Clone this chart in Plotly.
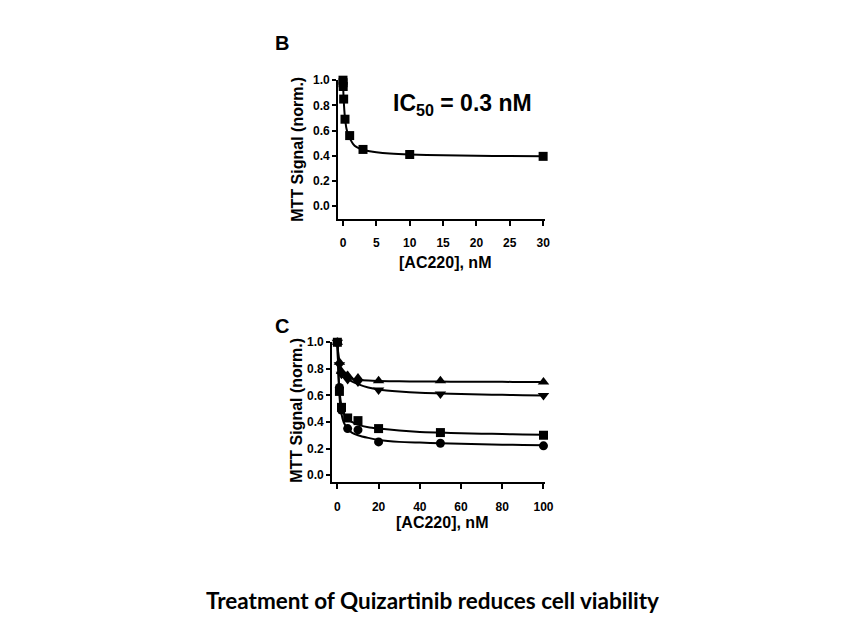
import plotly.graph_objects as go

W, H = 845, 634

# ---------------- Panel B data ----------------
b_dose = [0, 0.01, 0.03, 0.1, 0.3, 1, 3, 10, 30]
b_signal = [1.0, 0.98, 0.95, 0.85, 0.69, 0.56, 0.45, 0.41, 0.395]
b_fit_x = [0, 0.05, 0.1, 0.2, 0.3, 0.5, 0.75, 1, 1.5, 2, 3, 4, 5, 7, 10, 15, 20, 25, 30]
b_fit_y = [1.0, 0.91, 0.85, 0.76, 0.70, 0.62, 0.57, 0.54, 0.495, 0.47, 0.447, 0.435, 0.427, 0.417, 0.409, 0.403, 0.399, 0.397, 0.395]
b_xticks = [0, 5, 10, 15, 20, 25, 30]
b_yticks = [0.0, 0.2, 0.4, 0.6, 0.8, 1.0]

# ---------------- Panel C data ----------------
c_dose = [0, 1, 2, 5, 10, 20, 50, 100]
c_up = [1.0, 0.85, 0.78, 0.75, 0.73, 0.71, 0.71, 0.70]
c_down = [1.0, 0.83, 0.76, 0.72, 0.70, 0.64, 0.61, 0.60]
c_square = [1.0, 0.63, 0.51, 0.43, 0.41, 0.35, 0.32, 0.30]
c_circle = [1.0, 0.66, 0.49, 0.35, 0.34, 0.25, 0.24, 0.22]
c_fit_x = [0, 0.5, 1, 1.5, 2, 3, 4, 5, 7, 10, 15, 20, 30, 40, 50, 60, 70, 80, 90, 100]
c_fit_up = [1.0, 0.90, 0.84, 0.80, 0.78, 0.76, 0.745, 0.735, 0.725, 0.718, 0.712, 0.709, 0.706, 0.705, 0.704, 0.703, 0.702, 0.702, 0.701, 0.70]
c_fit_down = [1.0, 0.90, 0.84, 0.80, 0.78, 0.755, 0.74, 0.725, 0.705, 0.685, 0.66, 0.645, 0.63, 0.62, 0.615, 0.61, 0.607, 0.604, 0.602, 0.60]
c_fit_square = [1.0, 0.78, 0.64, 0.57, 0.52, 0.47, 0.44, 0.42, 0.40, 0.38, 0.36, 0.35, 0.335, 0.325, 0.32, 0.315, 0.312, 0.309, 0.306, 0.304]
c_fit_circle = [1.0, 0.76, 0.60, 0.51, 0.46, 0.40, 0.37, 0.35, 0.32, 0.30, 0.28, 0.265, 0.25, 0.245, 0.24, 0.235, 0.232, 0.229, 0.226, 0.224]
c_xticks = [0, 20, 40, 60, 80, 100]
c_yticks = [0.0, 0.2, 0.4, 0.6, 0.8, 1.0]

FONT = "Liberation Sans, Arial, sans-serif"


def px(x):
    return x / W


def py(y):
    return 1 - y / H


fig = go.Figure()

line_style = dict(color="black", width=2, shape="spline", smoothing=0.6)

# Panel B
fig.add_trace(go.Scatter(x=b_fit_x, y=b_fit_y, mode="lines", line=line_style,
                         xaxis="x", yaxis="y", cliponaxis=False, hoverinfo="skip"))
fig.add_trace(go.Scatter(x=b_dose, y=b_signal, mode="markers",
                         marker=dict(symbol="square", size=9, color="black"),
                         xaxis="x", yaxis="y", cliponaxis=False))

# Panel C
for fy in [c_fit_up, c_fit_down, c_fit_square, c_fit_circle]:
    fig.add_trace(go.Scatter(x=c_fit_x, y=fy, mode="lines", line=line_style,
                             xaxis="x2", yaxis="y2", cliponaxis=False, hoverinfo="skip"))
for vals, sym, sz in [(c_up, "triangle-up", 10), (c_down, "triangle-down", 10),
                      (c_square, "square", 9), (c_circle, "circle", 9)]:
    fig.add_trace(go.Scatter(x=c_dose, y=vals, mode="markers",
                             marker=dict(symbol=sym, size=sz, color="black"),
                             xaxis="x2", yaxis="y2", cliponaxis=False))

axis_common = dict(showgrid=False, zeroline=False, showline=True, linecolor="black",
                   linewidth=2, ticks="outside", tickwidth=2, tickcolor="black",
                   tickfont=dict(family=FONT, size=12, color="black", weight="bold"))

fig.update_layout(
    width=W, height=H,
    margin=dict(l=0, r=0, t=0, b=0),
    paper_bgcolor="white", plot_bgcolor="white",
    showlegend=False,
    xaxis=dict(domain=[px(341.7), px(551)], range=[-0.74, 30.3], tickvals=b_xticks,
               ticktext=[str(v) for v in b_xticks], anchor="y", ticklen=5,
               ticklabelstandoff=7, **axis_common),
    yaxis=dict(domain=[py(214.3), py(74)], range=[-0.102, 1.0], tickvals=b_yticks,
               ticktext=[f"{v:.1f}" for v in b_yticks], anchor="x", ticklen=4,
               ticklabelstandoff=0, **axis_common),
    xaxis2=dict(domain=[px(335.7), px(551)], range=[-2.54, 100.8], tickvals=c_xticks,
                ticktext=[str(v) for v in c_xticks], anchor="y2", ticklen=5,
                ticklabelstandoff=7, **axis_common),
    yaxis2=dict(domain=[py(480.7), py(339)], range=[-0.055, 1.0], tickvals=c_yticks,
                ticktext=[f"{v:.1f}" for v in c_yticks], anchor="x2", ticklen=4,
                ticklabelstandoff=0, **axis_common),
)

title_font = dict(family=FONT, size=16, color="black")
annotations = [
    dict(text="<b>B</b>", x=px(285), y=py(36), font=dict(family=FONT, size=20, color="black")),
    dict(text="<b>C</b>", x=px(285), y=py(323), font=dict(family=FONT, size=20, color="black")),
    dict(text="<b>IC<sub>50</sub> = 0.3 nM</b>", x=px(467), y=py(99),
         font=dict(family=FONT, size=23, color="black")),
    dict(text="<b>MTT Signal (norm.)</b>", x=px(301), y=py(143.5), textangle=-90, font=title_font),
    dict(text="<b>[AC220], nM</b>", x=px(450), y=py(258.5), font=title_font),
    dict(text="<b>MTT Signal (norm.)</b>", x=px(299), y=py(407.5), textangle=-90, font=title_font),
    dict(text="<b>[AC220], nM</b>", x=px(447), y=py(521), font=title_font),
    dict(text="<b>Treatment of Quizartinib reduces cell viability</b>", x=px(437), y=py(600),
         font=dict(family="Lato, Open Sans, sans-serif", size=22.5, color="black")),
]
for a in annotations:
    a.update(xref="paper", yref="paper", showarrow=False, xanchor="center", yanchor="middle")
fig.update_layout(annotations=annotations)

fig.write_html("out.html")
